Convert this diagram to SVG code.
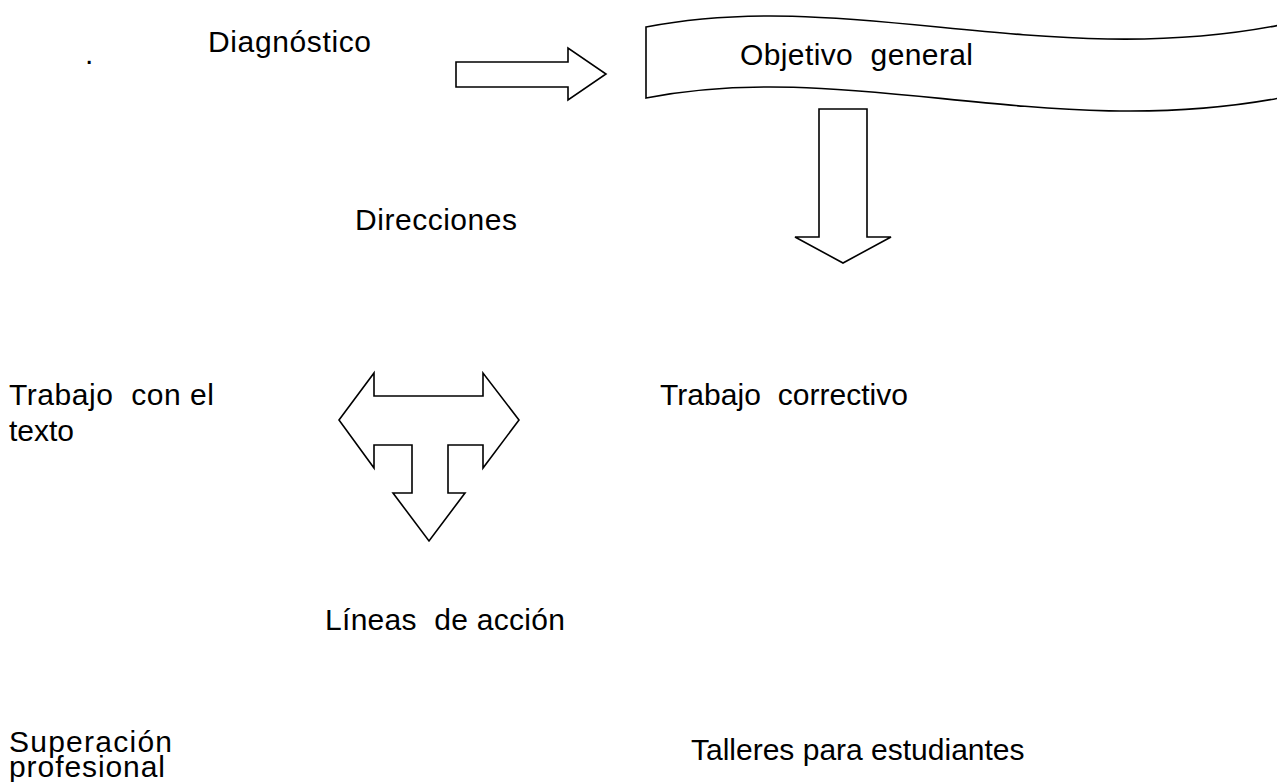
<svg xmlns="http://www.w3.org/2000/svg" width="1277" height="782" viewBox="0 0 1277 782">
<style>
  .t { font-family: "Liberation Sans", Arial, sans-serif; font-size: 30px; fill: #000; }
  .s { fill: #fff; stroke: #000; stroke-width: 1.6; stroke-linejoin: miter; }
</style>
<rect width="1277" height="782" fill="#fff"/>
<g id="dot"><text class="t" x="85" y="64">.</text></g>
<g id="diagnostico"><text class="t" x="208" y="52" textLength="163">Diagnóstico</text></g>
<g id="objetivo-general">
  <path class="s" d="M646,27 C850,-13 1050,72 1285,24 L1285,97 C1050,143 850,58 646,98 Z"/>
  <text class="t" x="740" y="65" xml:space="preserve" textLength="233">Objetivo  general</text>
</g>
<g id="direcciones"><text class="t" x="355" y="230" textLength="162">Direcciones</text></g>
<g id="trabajo-texto">
  <text class="t" x="9" y="405" xml:space="preserve" textLength="205">Trabajo  con el</text>
  <text class="t" x="9" y="441">texto</text>
</g>
<g id="trabajo-correctivo"><text class="t" x="660" y="405" xml:space="preserve" textLength="248">Trabajo  correctivo</text></g>
<g id="lineas-accion"><text class="t" x="325" y="630" xml:space="preserve" textLength="240">Líneas  de acción</text></g>
<g id="superacion">
  <text class="t" x="9" y="752" textLength="163">Superación</text>
  <text class="t" x="9" y="777" textLength="156">profesional</text>
</g>
<g id="talleres"><text class="t" x="691" y="760">Talleres para estudiantes</text></g>
<g id="connectors">
  <path class="s" d="M456,62 L568,62 L568,48 L606,74 L568,100 L568,87 L456,87 Z"/>
  <path class="s" d="M819,109 L867,109 L867,237 L891,237 L843,263 L795,237 L819,237 Z"/>
  <path class="s" d="M339,420 L374,373 L374,396 L483,396 L483,373 L519,420 L483,468 L483,445 L448,445 L448,493 L465,493 L429,541 L393,493 L412,493 L412,445 L374,445 L374,468 Z"/>
</g>
</svg>
